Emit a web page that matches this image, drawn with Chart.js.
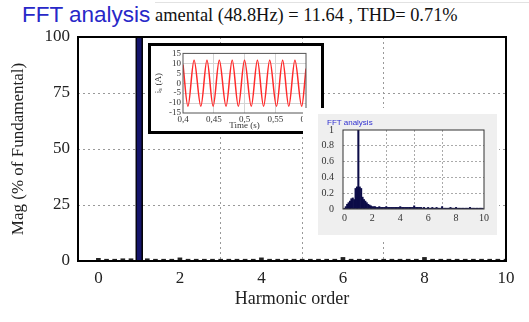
<!DOCTYPE html>
<html lang="en">
<head>
<meta charset="UTF-8">
<title>FFT analysis</title>
<script src="https://cdn.jsdelivr.net/npm/chart.js"></script>
<style>
  body { margin: 0; background: #fff; width: 529px; height: 322px; position: relative; overflow: hidden; }
  #main { position: absolute; left: 0; top: 0; }
  .topline { position: absolute; left: 155px; top: 2px; width: 374px; height: 1px; background: #e2e2e2; }
  .head1 { position: absolute; left: 22px; top: 4px; font: 22.5px/1 "Liberation Sans", Arial, sans-serif; color: #2828c8; white-space: nowrap; }
  .head2 { position: absolute; left: 155px; top: 6px; font: 18.4px/1 "Liberation Serif", "Times New Roman", serif; color: #111; white-space: nowrap; }
  #box1 { position: absolute; left: 148px; top: 43px; width: 170px; height: 85px; border: 3px solid #000; background: #fff; }
  #box1 canvas { position: absolute; left: 0; top: 0; }
  #box2 { position: absolute; left: 303px; top: 108px; width: 196px; height: 131px; background: #fff; }
  #grey2 { position: absolute; left: 15px; top: 6px; width: 179px; height: 121px; background: #efefef; }
  #grey2 canvas { position: absolute; left: 0; top: 0; }
  .spec-title { position: absolute; left: 9px; top: 5px; font: 8px/1 "Liberation Sans", Arial, sans-serif; color: #3030d0; white-space: nowrap; }
</style>
</head>
<body>
  <div class="topline"></div>
  <div class="head1">FFT analysis</div>
  <div class="head2">amental (48.8Hz) = 11.64 , THD= 0.71%</div>

  <canvas id="main" width="529" height="322"></canvas>

  <div id="box1"><canvas id="wave" width="170" height="85"></canvas></div>
  <div id="box2"><div id="grey2">
    <canvas id="spec" width="179" height="121"></canvas>
    <div class="spec-title">FFT analysis</div>
  </div></div>

<script>
  // main spectrum (% of fundamental)
  const fundOrder = [1];
  const fundMag = [100];
  const harmOrder = [0, 0.2, 0.4, 0.6, 0.8, 1.2, 1.4, 1.6, 1.8, 2, 2.2, 2.4, 2.6, 2.8, 3, 3.2, 3.4, 3.6, 3.8, 4,
    4.2, 4.4, 4.6, 4.8, 5, 5.2, 5.4, 5.6, 5.8, 6, 6.2, 6.4, 6.6, 6.8, 7, 7.2, 7.4, 7.6, 7.8, 8,
    8.2, 8.4, 8.6, 8.8, 9, 9.2, 9.4, 9.6, 9.8, 10];
  const harmMag = [1.2, 0.8, 0.8, 1.0, 1.0, 1.0, 0.8, 0.8, 0.8, 1.4, 0.8, 0.8, 0.8, 0.8, 0.8, 0.8, 0.8, 0.8, 0.8, 1.4,
    0.8, 0.8, 0.8, 0.8, 0.8, 0.8, 0.8, 0.8, 0.8, 1.6, 0.8, 0.8, 0.8, 0.8, 0.8, 0.8, 0.8, 0.8, 0.8, 1.6,
    0.8, 0.8, 0.8, 0.8, 0.8, 0.8, 0.8, 0.8, 0.8, 0.8];
  const mainXTicks = [0, 2, 4, 6, 8, 10];
  const mainYTicks = [0, 25, 50, 75, 100];

  // inset: current waveform
  const waveTime = [0.400, 0.408, 0.418, 0.429, 0.439, 0.449, 0.459, 0.470, 0.480, 0.490, 0.500,
    0.511, 0.521, 0.531, 0.541, 0.552, 0.562, 0.572, 0.582, 0.593, 0.600];
  const waveCurrent = [9.4, -11.6, 11.6, -11.6, 11.6, -11.6, 11.6, -11.6, 11.6, -11.6, 11.6,
    -11.6, 11.6, -11.6, 11.6, -11.6, 11.6, -11.6, 11.6, -11.6, 7.4];
  const timeTicks = [0.4, 0.45, 0.5, 0.55, 0.6];
  const timeTickLabels = ['0,4', '0,45', '0,5', '0,55', '0,6'];
  const currentTicks = [-15, -10, -5, 0, 5, 10, 15];

  // inset: small FFT analysis
  const specOrder = [0, 0.1, 0.2, 0.3, 0.4, 0.5, 0.6, 0.7, 0.8, 0.9, 1, 1.1, 1.2, 1.3, 1.4, 1.5, 1.6, 1.7, 1.8, 1.9,
    2, 2.1, 2.2, 2.3, 2.4, 2.5, 2.6, 2.7, 2.8, 2.9, 3, 3.1, 3.2, 3.3, 3.4, 3.5, 3.6, 3.7, 3.8, 3.9,
    4, 4.1, 4.2, 4.3, 4.4, 4.5, 4.6, 4.7, 4.8, 4.9, 5, 5.1, 5.2, 5.3, 5.4, 5.5, 5.6, 5.7, 5.8, 5.9,
    6, 6.1, 6.2, 6.3, 6.4, 6.5, 6.6, 6.7, 6.8, 6.9, 7, 7.1, 7.2, 7.3, 7.4, 7.5, 7.6, 7.7, 7.8, 7.9,
    8, 8.1, 8.2, 8.3, 8.4, 8.5, 8.6, 8.7, 8.8, 8.9, 9, 9.1, 9.2, 9.3, 9.4, 9.5, 9.6, 9.7, 9.8, 9.9];
  const specMag = [0.01, 0.03, 0.06, 0.08, 0.10, 0.13, 0.14, 0.12, 0.26, 0.28, 1.00, 0.28, 0.26, 0.15, 0.12, 0.10, 0.08, 0.06, 0.05, 0.04,
    0.03, 0.03, 0.03, 0.02, 0.02, 0.03, 0.02, 0.02, 0.02, 0.02, 0.03, 0.02, 0.02, 0.02, 0.02, 0.02, 0.02, 0.02, 0.02, 0.02,
    0.03, 0.02, 0.02, 0.02, 0.02, 0.02, 0.02, 0.02, 0.02, 0.02, 0.04, 0.02, 0.02, 0.02, 0.02, 0.02, 0.01, 0.02, 0.01, 0.01,
    0.02, 0.01, 0.01, 0.02, 0.01, 0.01, 0.02, 0.01, 0.01, 0.01, 0.03, 0.01, 0.01, 0.01, 0.01, 0.01, 0.02, 0.01, 0.01, 0.01,
    0.02, 0.01, 0.01, 0.01, 0.01, 0.01, 0.01, 0.01, 0.01, 0.01, 0.02, 0.01, 0.01, 0.01, 0.01, 0.01, 0.01, 0.01, 0.01, 0.01];
  const specXTicks = [0, 2, 4, 6, 8, 10];
  const specYTicks = [0, 0.2, 0.4, 0.6, 0.8, 1];
  const specYLabels = ['0', '0.2', '0.4', '0.6', '0.8', '1'];

  const serif = '"Liberation Serif", "Times New Roman", serif';

  // box around the plot area + optional white fill inside
  const framePlugin = {
    id: 'frame',
    beforeDraw(chart, args, opts) {
      if (!opts.fill) return;
      const a = chart.chartArea;
      chart.ctx.save();
      chart.ctx.fillStyle = opts.fill;
      chart.ctx.fillRect(a.left, a.top, a.right - a.left, a.bottom - a.top);
      chart.ctx.restore();
    },
    afterDatasetsDraw(chart, args, opts) {
      const a = chart.chartArea;
      const ctx = chart.ctx;
      ctx.save();
      ctx.strokeStyle = opts.color || '#000';
      ctx.lineWidth = opts.width || 1;
      ctx.strokeRect(a.left, a.top, a.right - a.left, a.bottom - a.top);
      ctx.restore();
    }
  };

  function setTicks(list) {
    return function (scale) { scale.ticks = list.map(v => ({ value: v })); };
  }
  function innerGrid(color, lo, hi) {
    return ctx => (ctx.tick && ctx.tick.value > lo && ctx.tick.value < hi) ? color : 'rgba(0,0,0,0)';
  }

  // ---- main chart ----
  new Chart(document.getElementById('main'), {
    type: 'bar',
    data: {
      datasets: [
        {
          data: fundOrder.map((x, i) => ({ x: x, y: fundMag[i] })),
          backgroundColor: '#14146a', borderColor: '#000', borderWidth: 1.5,
          barThickness: 7, grouped: false
        },
        {
          data: harmOrder.map((x, i) => ({ x: x, y: harmMag[i] })),
          backgroundColor: '#222', barThickness: 4, grouped: false
        }
      ]
    },
    options: {
      responsive: false, animation: false, devicePixelRatio: 1,
      layout: { padding: { left: 0, top: 37, right: 23, bottom: 0 } },
      plugins: { legend: { display: false }, tooltip: { enabled: false }, frame: { color: '#000', width: 2 } },
      scales: {
        x: {
          type: 'linear', min: -0.5, max: 10, offset: false,
          afterBuildTicks: setTicks(mainXTicks),
          afterFit: s => { s.height = 61; },
          grid: { color: innerGrid('#999', -0.5, 10), drawTicks: false, lineWidth: 1 },
          border: { display: false, dash: [2, 3] },
          ticks: { padding: 7, color: '#222', font: { family: serif, size: 17 }, maxRotation: 0, autoSkip: false },
          title: { display: true, text: 'Harmonic order', color: '#222', font: { family: serif, size: 18 }, padding: { top: 0, bottom: 12 } }
        },
        y: {
          min: 0, max: 100,
          afterBuildTicks: setTicks(mainYTicks),
          afterFit: s => { s.width = 78; },
          grid: { color: innerGrid('#999', 0, 100), drawTicks: false, lineWidth: 1 },
          border: { display: false, dash: [2, 3] },
          ticks: { padding: 8, color: '#222', font: { family: serif, size: 17 }, autoSkip: false },
          title: { display: true, text: 'Mag (% of Fundamental)', color: '#222', font: { family: serif, size: 17 }, padding: { top: 8, bottom: 0 } }
        }
      }
    },
    plugins: [framePlugin]
  });

  // ---- waveform inset ----
  new Chart(document.getElementById('wave'), {
    type: 'line',
    data: {
      datasets: [{
        data: waveTime.map((t, i) => ({ x: t, y: waveCurrent[i] })),
        borderColor: '#ff2a2a', borderWidth: 1.5, pointRadius: 0,
        cubicInterpolationMode: 'monotone', fill: false
      }]
    },
    options: {
      responsive: false, animation: false, devicePixelRatio: 1,
      layout: { padding: { left: 0, top: 5, right: 15, bottom: 0 } },
      plugins: { legend: { display: false }, tooltip: { enabled: false }, frame: { color: '#555', width: 1 } },
      scales: {
        x: {
          type: 'linear', min: 0.4, max: 0.6,
          afterBuildTicks: setTicks(timeTicks),
          afterFit: s => { s.height = 18; },
          grid: { color: innerGrid('#d4d4d4', 0.4, 0.6), drawTicks: false },
          border: { display: false },
          ticks: {
            padding: 1, color: '#333', font: { family: serif, size: 9 }, maxRotation: 0, autoSkip: false,
            callback: v => timeTickLabels[timeTicks.indexOf(v)]
          },
          title: { display: true, text: 'Time (s)', color: '#333', font: { family: serif, size: 9 }, padding: 0 }
        },
        y: {
          min: -15, max: 15,
          afterBuildTicks: setTicks(currentTicks),
          afterFit: s => { s.width = 32; },
          grid: { color: innerGrid('#d4d4d4', -15, 15), drawTicks: false },
          border: { display: false },
          ticks: { padding: 2, color: '#333', font: { family: serif, size: 9 }, autoSkip: false },
          title: { display: true, text: 'iₛ (A)', color: '#333', font: { family: serif, size: 9 }, padding: { top: 2, bottom: 0 } }
        }
      }
    },
    plugins: [framePlugin]
  });

  // ---- small FFT inset ----
  new Chart(document.getElementById('spec'), {
    type: 'bar',
    data: {
      datasets: [{
        data: specOrder.map((x, i) => ({ x: x, y: specMag[i] })),
        backgroundColor: '#0c0c48', barPercentage: 1, categoryPercentage: 1
      }]
    },
    options: {
      responsive: false, animation: false, devicePixelRatio: 1,
      layout: { padding: { left: 0, top: 16, right: 13, bottom: 0 } },
      plugins: {
        legend: { display: false }, tooltip: { enabled: false },
        frame: { color: '#333', width: 1, fill: '#fff' }
      },
      scales: {
        x: {
          type: 'linear', min: -0.1, max: 10, offset: false,
          afterBuildTicks: setTicks(specXTicks),
          afterFit: s => { s.height = 26; },
          grid: { color: innerGrid('#aaa', 0, 10), drawTicks: false },
          border: { display: false, dash: [2, 2] },
          ticks: { padding: 3, color: '#333', font: { family: serif, size: 10 }, maxRotation: 0, autoSkip: false }
        },
        y: {
          min: 0, max: 1,
          afterBuildTicks: setTicks(specYTicks),
          afterFit: s => { s.width = 25; },
          grid: { color: innerGrid('#aaa', 0, 1), drawTicks: false },
          border: { display: false, dash: [2, 2] },
          ticks: {
            padding: 9, color: '#333', font: { family: serif, size: 10 }, autoSkip: false,
            callback: v => specYLabels[specYTicks.indexOf(v)]
          }
        }
      }
    },
    plugins: [framePlugin]
  });
</script>
</body>
</html>
